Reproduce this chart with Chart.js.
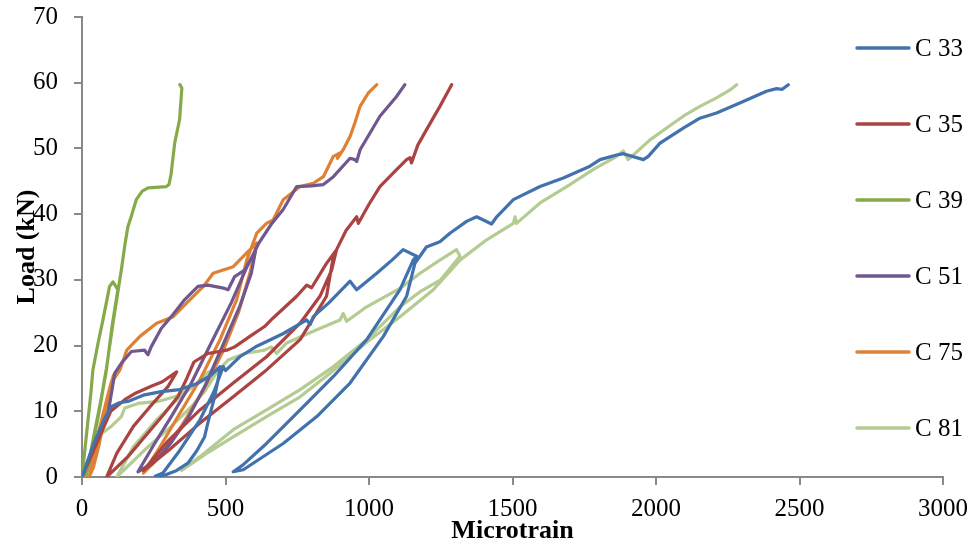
<!DOCTYPE html>
<html>
<head>
<meta charset="utf-8">
<script src="https://cdn.jsdelivr.net/npm/chart.js@4.4.1/dist/chart.umd.min.js"></script>
<style>
  html, body { margin: 0; padding: 0; background: #fff; }
  #wrap { width: 973px; height: 547px; }
</style>
</head>
<body>
<div id="wrap"><canvas id="loadChart" width="973" height="547"></canvas></div>
<script>
// series labels and colours
const seriesNames = ["C 33", "C 35", "C 39", "C 51", "C 75", "C 81"];
const seriesColors = ["#4272AE", "#AA4341", "#86A94A", "#71578F", "#DF8134", "#B4CC92"];

// axis ticks
const xTicks = [0, 500, 1000, 1500, 2000, 2500, 3000];
const yTicks = [0, 10, 20, 30, 40, 50, 60, 70];

// C 33 (microstrain, kN)
const c33x = [0, 40, 80, 102, 130, 160, 218, 276, 340, 400, 450, 481,
  475, 462, 440, 427, 400, 369, 330, 290, 255,
  282, 340, 411, 460, 492, 500, 550, 609, 700, 783, 795, 806, 860, 934, 957, 1027, 1080, 1119, 1166,
  1154, 1108, 992, 876, 760, 643, 560, 527,
  562, 701, 818, 934, 1050, 1131, 1160, 1200, 1247, 1282, 1340, 1375, 1427, 1445, 1503, 1596, 1677,
  1770, 1805, 1863, 1886, 1956, 1973, 2014, 2095, 2153, 2211, 2292, 2385, 2420, 2440, 2461];
const c33y = [0, 5, 9, 10.7, 11.3, 11.5, 12.5, 13, 13.3, 14.2, 15.5, 16.8,
  15, 12.2, 8.5, 6.1, 4, 2.1, 1, 0.3, 0.1,
  0.6, 4, 8.7, 13, 16.8, 16.2, 18.3, 19.9, 21.8, 23.9, 23.2, 24.4, 26.5, 29.8, 28.5, 31, 33, 34.6, 33.6,
  33, 28.5, 20.9, 15.3, 10.2, 5.1, 1.8, 0.8,
  1.1, 5.1, 9.2, 14.3, 21.4, 27.5, 32.5, 35, 35.8, 37.1, 38.9, 39.6, 38.5, 39.6, 42.2, 44.2, 45.5,
  47.3, 48.3, 49, 49.2, 48.3, 48.8, 50.8, 53.1, 54.6, 55.4, 56.9, 58.7, 59.1, 59, 59.7];

// C 35
const c35x = [0, 50, 100, 150, 184, 241, 280, 330,
  300, 237, 179, 121, 86,
  160, 218, 288, 334, 365, 390, 439, 504, 532, 585, 636, 666, 748, 783, 800, 852, 887,
  876, 852, 760, 643, 527, 411, 300, 214,
  300, 411, 527, 643, 760, 829, 870, 887, 920, 957, 963, 1000, 1038, 1090, 1131, 1143, 1148, 1170, 1201, 1247, 1288];
const c35y = [0, 5, 10, 11.8, 12.7, 13.8, 14.5, 16,
  13.8, 10.7, 7.7, 3.6, 0,
  3.1, 6.1, 9.7, 12.2, 15, 17.5, 18.8, 19.3, 19.8, 21.4, 22.9, 24.2, 27.5, 29.2, 28.8, 32.5, 34.6,
  33.6, 27.5, 20.9, 16.3, 12.2, 8.2, 4, 1,
  5.5, 10.2, 14.3, 18.3, 23.4, 27.5, 31.5, 34.6, 37.5, 39.6, 38.6, 41.5, 44.2, 46.5, 48.3, 48.6, 47.8, 50.5, 52.9, 56.4, 59.7];

// C 39
const c39x = [0, 31, 38, 56, 73, 96, 108,
  125, 105, 85, 60, 40, 22, 15,
  40, 65, 85, 110, 137, 150, 160, 172, 189, 210, 230, 294, 303, 310, 323, 340, 348, 341];
const c39y = [0, 12.8, 16.3, 20.4, 23.9, 29, 29.7,
  28.5, 23, 16.3, 10, 5.5, 1.5, 0.3,
  6, 11.5, 16.5, 24, 31.5, 35.5, 38.1, 39.7, 42.2, 43.5, 44, 44.2, 44.5, 46, 50.8, 54.4, 59.2, 59.7];

// C 51
const c51x = [0, 30, 56, 91, 114, 137, 172, 218, 230, 241, 276, 311, 358, 404, 439, 497, 509, 532, 567, 605,
  590, 550, 490, 430, 370, 310, 250, 195,
  253, 311, 381, 450, 520, 575, 615, 660, 701, 748, 800, 841, 876, 934, 951, 957, 969, 1038, 1096, 1125];
const c51y = [0, 3.5, 6.1, 9.7, 15.8, 17.3, 19.1, 19.3, 18.6, 19.8, 22.6, 24.4, 27, 29, 29.2, 28.7, 28.5, 30.5, 31.5, 34.5,
  31, 26, 20, 14, 9, 5.2, 2.2, 0.8,
  5.1, 9.2, 14.3, 20.4, 26.5, 32, 35.5, 38.5, 40.7, 44.2, 44.3, 44.5, 45.7, 48.5, 48.3, 48, 49.8, 54.9, 57.9, 59.7];

// C 75
const c75x = [10, 30, 51, 74, 98, 110,
  85, 60, 40, 25,
  50, 80, 105, 132, 156, 202, 260, 318, 365, 423, 457, 527, 574, 609,
  585, 545, 490, 420, 350, 280, 214,
  272, 341, 411, 481, 539, 574, 609, 643, 666, 701, 760, 806, 841, 876, 899, 890, 910, 934, 951, 969, 997, 1027];
const c75y = [0, 3, 5.6, 9.7, 13.8, 15.5,
  10.5, 5, 1.5, 0,
  5, 10.5, 14.5, 16.3, 19.3, 21.4, 23.4, 24.4, 26.5, 29, 31, 32, 34.1, 35.6,
  31, 25, 19, 13, 8, 3.5, 0.6,
  4.6, 9.7, 14.8, 20.9, 27, 33, 37.1, 38.6, 39.1, 42.2, 44.2, 44.7, 45.7, 48.8, 49.3, 48.5, 49.8, 51.8, 53.9, 56.4, 58.4, 59.7];

// C 81
const c81x = [0, 32, 67, 102, 137, 149, 195, 265, 323, 369, 427, 470,
  434, 388, 341, 260, 179, 121,
  218, 311, 381, 427, 470, 509, 567, 636, 660, 678, 713, 818, 899, 910, 922, 992, 1108, 1178, 1240, 1305,
  1317, 1250, 1178, 1108, 992, 876, 760, 643, 527, 411, 347,
  434, 527, 643, 760, 864, 992, 1108, 1224, 1317, 1410, 1503, 1509, 1514, 1596, 1689, 1782, 1863, 1886,
  1903, 1921, 1979, 2037, 2095, 2153, 2211, 2258, 2281];
const c81y = [0, 3.6, 6.6, 7.7, 9.2, 10.5, 11.2, 11.5, 12.2, 13.3, 14.8, 16.5,
  15.8, 13.8, 12.2, 8.7, 4.6, 0,
  4.1, 7.7, 10.7, 13, 16, 17.8, 18.8, 19.3, 19.8, 18.8, 20.4, 22.4, 23.9, 24.9, 23.7, 25.9, 28.7, 31, 32.8, 34.6,
  33.6, 30, 28.2, 25.9, 20.9, 16.8, 13.3, 10.2, 7.2, 3.1, 1,
  3.6, 6.1, 9.2, 12.2, 15.8, 20.5, 24.4, 28.5, 33, 36.1, 38.6, 39.6, 38.6, 41.7, 44.2, 46.8, 48.8, 49.6,
  48.3, 49, 51.3, 53.1, 54.9, 56.4, 57.7, 58.9, 59.7];

const seriesX = [c33x, c35x, c39x, c51x, c75x, c81x];
const seriesY = [c33y, c35y, c39y, c51y, c75y, c81y];

const serif = "'Liberation Serif', 'Times New Roman', serif";
const axisGray = "#898989";

function toPoints(xs, ys) {
  return xs.map((x, i) => ({ x: x, y: ys[i] }));
}

const datasets = seriesNames.map((name, i) => ({
  label: name,
  data: toPoints(seriesX[i], seriesY[i]),
  borderColor: seriesColors[i],
  backgroundColor: seriesColors[i],
  borderWidth: 3.2,
  showLine: true,
  pointRadius: 0,
  tension: 0,
  borderJoinStyle: "round",
  borderCapStyle: "round"
}));

// legend drawn over the right part of the plot, like the original
const sideLegend = {
  id: "sideLegend",
  afterDraw(chart) {
    const ctx = chart.ctx;
    ctx.save();
    ctx.font = "25px " + serif;
    ctx.textBaseline = "middle";
    ctx.textAlign = "left";
    seriesNames.forEach((name, i) => {
      const y = 48 + i * 76;
      ctx.strokeStyle = seriesColors[i];
      ctx.lineWidth = 3.5;
      ctx.lineCap = "round";
      ctx.beginPath();
      ctx.moveTo(857, y);
      ctx.lineTo(909, y);
      ctx.stroke();
      ctx.fillStyle = "#000";
      ctx.fillText(name, 915, y + 1);
    });
    ctx.restore();
  }
};

new Chart(document.getElementById("loadChart"), {
  type: "scatter",
  data: { datasets: datasets },
  plugins: [sideLegend],
  options: {
    responsive: false,
    animation: false,
    layout: { padding: 0 },
    plugins: {
      legend: { display: false },
      tooltip: { enabled: false }
    },
    scales: {
      x: {
        type: "linear",
        min: 0,
        max: 3000,
        afterBuildTicks: s => { s.ticks = xTicks.map(v => ({ value: v })); },
        afterFit: s => { s.height = 70; s.paddingLeft = 0; s.paddingRight = 30; },
        border: { color: axisGray, width: 2 },
        grid: { drawOnChartArea: false, color: axisGray, lineWidth: 2, tickLength: 8 },
        ticks: {
          color: "#000", font: { family: serif, size: 25 }, padding: 9, maxRotation: 0,
          autoSkip: false, callback: v => String(v)
        },
        title: {
          display: true, text: "Microtrain", color: "#000",
          font: { family: serif, size: 26, weight: "bold" }, padding: { top: 0, bottom: 0 }
        }
      },
      y: {
        type: "linear",
        min: 0,
        max: 70,
        afterBuildTicks: s => { s.ticks = yTicks.map(v => ({ value: v })); },
        afterFit: s => { s.width = 82; s.paddingTop = 17; s.paddingBottom = 0; },
        border: { color: axisGray, width: 2 },
        grid: { drawOnChartArea: false, color: axisGray, lineWidth: 2, tickLength: 8 },
        ticks: {
          color: "#000", font: { family: serif, size: 25 }, padding: 16,
          autoSkip: false, callback: v => String(v)
        },
        title: {
          display: true, text: "Load (kN)", color: "#000",
          font: { family: serif, size: 26, weight: "bold" }, padding: { top: 12, bottom: 0 }
        }
      }
    }
  }
});
</script>
</body>
</html>
